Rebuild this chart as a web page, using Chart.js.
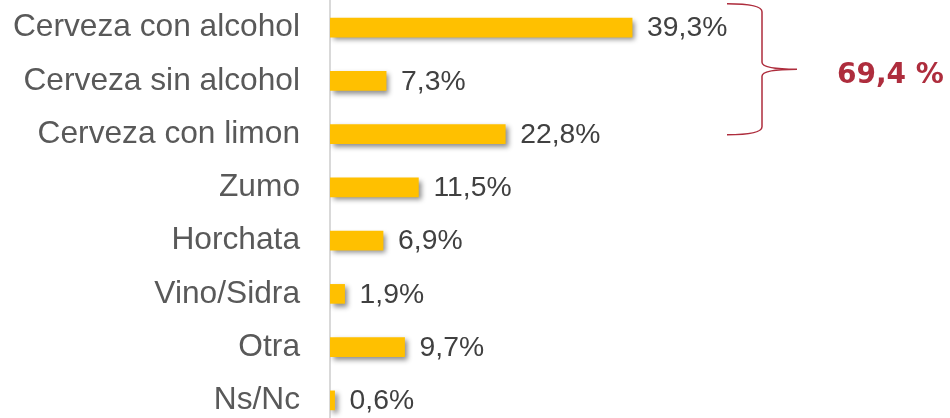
<!DOCTYPE html>
<html>
<head>
    <title>Bebidas</title>
    <script src="https://cdn.jsdelivr.net/npm/chart.js"></script>
    <style>
        body { margin: 0; overflow: hidden; background: #fff; }
    </style>
</head>
<body>
    <canvas id="bebidasChart" width="950" height="430"></canvas>

    <script>
    // datos
    const categorias = ['Cerveza con alcohol', 'Cerveza sin alcohol', 'Cerveza con limon',
        'Zumo', 'Horchata', 'Vino/Sidra', 'Otra', 'Ns/Nc'];
    const porcentajes = [39.3, 7.3, 22.8, 11.5, 6.9, 1.9, 9.7, 0.6];
    const grupoCerveza = [0, 1, 2]; // filas que abarca la llave

    const fmt = v => v.toFixed(1).replace('.', ',');

    // sombra de las barras
    const sombra = {
        id: 'sombra',
        beforeDatasetsDraw(chart) {
            const ctx = chart.ctx;
            ctx.save();
            ctx.shadowColor = 'rgba(0,0,0,0.45)';
            ctx.shadowBlur = 5;
            ctx.shadowOffsetX = 3;
            ctx.shadowOffsetY = 3;
        },
        afterDatasetsDraw(chart) {
            chart.ctx.restore();
        }
    };

    // etiquetas de valor a la derecha de cada barra
    const etiquetas = {
        id: 'etiquetas',
        afterDatasetsDraw(chart) {
            const ctx = chart.ctx;
            const meta = chart.getDatasetMeta(0);
            ctx.save();
            ctx.font = '28.3px "Liberation Sans", Arial, sans-serif';
            ctx.fillStyle = '#404040';
            ctx.textAlign = 'left';
            ctx.textBaseline = 'middle';
            meta.data.forEach((bar, i) => {
                ctx.fillText(fmt(porcentajes[i]) + '%', bar.x + 15, bar.y + 1);
            });
            ctx.restore();
        }
    };

    // llave con el total de cervezas
    const llave = {
        id: 'llave',
        afterDraw(chart) {
            const ctx = chart.ctx;
            const y = chart.scales.y;
            const top = y.getPixelForValue(grupoCerveza[0]) - 24;
            const bottom = y.getPixelForValue(grupoCerveza[grupoCerveza.length - 1]) + 0.5;
            const mid = (top + bottom) / 2;
            const x0 = 727, x1 = 762, tip = 797;

            ctx.save();
            ctx.strokeStyle = '#AE2D3D';
            ctx.lineWidth = 1.5;
            ctx.beginPath();
            ctx.moveTo(x0, top);
            ctx.quadraticCurveTo(x1, top, x1, top + 8);
            ctx.lineTo(x1, mid - 7);
            ctx.quadraticCurveTo(x1, mid, tip, mid);
            ctx.quadraticCurveTo(x1, mid, x1, mid + 7);
            ctx.lineTo(x1, bottom - 8);
            ctx.quadraticCurveTo(x1, bottom, x0, bottom);
            ctx.stroke();

            const total = grupoCerveza.reduce((s, i) => s + porcentajes[i], 0);
            ctx.font = 'bold 28px "DejaVu Sans", Verdana, sans-serif';
            ctx.fillStyle = '#AE2D3D';
            ctx.textAlign = 'left';
            ctx.textBaseline = 'alphabetic';
            ctx.fillText(fmt(total) + ' %', 837, mid + 14);
            ctx.restore();
        }
    };

    const ctx = document.getElementById('bebidasChart').getContext('2d');
    new Chart(ctx, {
        type: 'bar',
        data: {
            labels: categorias,
            datasets: [{
                data: porcentajes,
                backgroundColor: '#FFC000',
                borderWidth: 0,
                barThickness: 19
            }]
        },
        options: {
            indexAxis: 'y',
            responsive: false,
            animation: false,
            layout: { padding: { top: 1, bottom: 3, right: 5, left: 0 } },
            plugins: {
                legend: { display: false },
                tooltip: { enabled: false }
            },
            scales: {
                x: {
                    display: false,
                    min: 0,
                    max: 80
                },
                y: {
                    afterFit(axis) {
                        axis.width = 330;
                        axis.paddingTop = 0;
                        axis.paddingBottom = 0;
                    },
                    grid: { display: false, drawTicks: false },
                    border: { display: true, color: '#D9D9D9', width: 2 },
                    ticks: {
                        padding: 30,
                        color: '#595959',
                        font: { family: '"Liberation Sans", Arial, sans-serif', size: 31.7 }
                    }
                }
            }
        },
        plugins: [sombra, etiquetas, llave]
    });
    </script>
</body>
</html>
